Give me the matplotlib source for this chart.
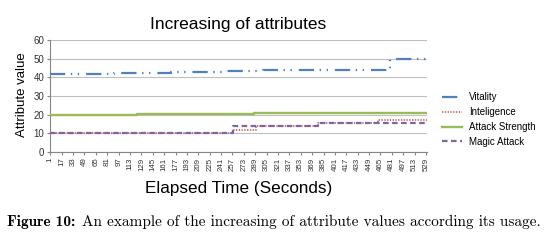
import matplotlib
matplotlib.use('Agg')
import matplotlib.pyplot as plt
import numpy as np

plt.rcParams['font.family'] = ['Liberation Sans', 'DejaVu Sans']
plt.rcParams['lines.scale_dashes'] = False

# step data: (second where value starts, value)
vit_t = [1, 90, 170, 250, 300, 380, 479, 530]
vit_v = [42.0, 42.4, 42.8, 43.3, 43.7, 44.0, 50.0, 50.0]
int_t = [1, 258, 290, 377, 462, 530]
int_v = [10, 12, 14, 15.5, 17, 17]
atk_t = [1, 123, 250, 287, 530]
atk_v = [20, 20.3, 20.6, 21, 21]
mag_t = [1, 258, 377, 530]
mag_v = [10, 14, 15.5, 15.5]

xtick_vals = list(range(1, 530, 16))
ytick_vals = [0, 10, 20, 30, 40, 50, 60]

fig = plt.figure(figsize=(5.5, 2.43), dpi=100)
ax = fig.add_axes([50/550, 1-152/243, 377/550, 112/243])

ax.plot(vit_t, vit_v, drawstyle='steps-post', color='#4F81BD', lw=1.6,
        dashes=(11, 4, 1, 4, 1, 5), label='Vitality', zorder=3)
ax.plot(int_t, int_v, drawstyle='steps-post', color='#C0504D', lw=1.1,
        dashes=(1, 1), label='Inteligence', zorder=3)
ax.plot(atk_t, atk_v, drawstyle='steps-post', color='#9BBB59', lw=1.7,
        label='Attack Strength', zorder=3)
ax.plot(mag_t, mag_v, drawstyle='steps-post', color='#8064A2', lw=1.6,
        dashes=(4, 2.5), label='Magic Attack', zorder=3)

ax.set_xlim(0.5, 530.5)
ax.set_ylim(0, 60)
ax.set_yticks(ytick_vals)
ax.set_xticks(xtick_vals)
ax.set_xticklabels([str(v) for v in xtick_vals], rotation=90, fontsize=5.7)
ax.tick_params(axis='y', labelsize=7, length=2, colors='#868686', labelcolor='#333333', pad=2)
ax.tick_params(axis='x', length=2, colors='#868686', labelcolor='#333333', pad=2)
ax.grid(axis='y', color='#BFBFBF', lw=0.8)
ax.set_axisbelow(True)
for s in ['top', 'right']:
    ax.spines[s].set_visible(False)
for s in ['left', 'bottom']:
    ax.spines[s].set_color('#868686')
    ax.spines[s].set_linewidth(0.8)

fig.text(238.5/550, 1-24/243, 'Increasing of attributes', fontsize=12.5,
         ha='center', va='center')
fig.text(22/550, 1-95/243, 'Attribute value', fontsize=9.5, rotation=90,
         ha='center', va='center')
fig.text(238.5/550, 1-188/243, 'Elapsed Time (Seconds)', fontsize=12.3,
         ha='center', va='center')

fig.legend(loc='center left', bbox_to_anchor=(442/550, 1-119.5/243), frameon=False,
           fontsize=7, handlelength=2.1, handletextpad=0.7, labelspacing=0.5,
           borderpad=0, borderaxespad=0)

# caption
t1 = fig.text(7/550, 1-222/243, 'Figure 10:', fontsize=11, family='cmb10',
              ha='left', va='center')
r = fig.canvas.get_renderer()
bb = t1.get_window_extent(r)
fig.text((bb.x1 + 7)/550, 1-222/243,
         'An example of the increasing of attribute values according its usage.',
         fontsize=11, family='cmr10', ha='left', va='center')

fig.savefig('out.png', dpi=100)
